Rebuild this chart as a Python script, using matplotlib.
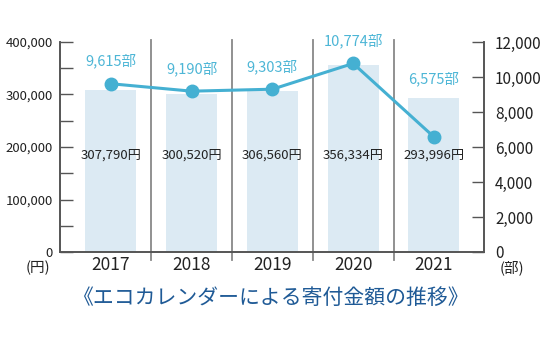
import numpy as np
import matplotlib.pyplot as plt
from matplotlib.ticker import MultipleLocator, FuncFormatter

plt.rcParams['font.family'] = ['Noto Sans CJK JP', 'DejaVu Sans']

# データ
years = ['2017', '2018', '2019', '2020', '2021']
kifu = [307790, 300520, 306560, 356334, 293996]     # 寄付金額(円)
busu = [9615, 9190, 9303, 10774, 6575]              # 部数
kifu_labels = ['307,790円', '300,520円', '306,560円', '356,334円', '293,996円']
busu_labels = ['9,615部', '9,190部', '9,303部', '10,774部', '6,575部']

bar_c = '#dceaf3'
line_c = '#45b0d2'
axis_c = '#555555'

fig = plt.figure(figsize=(5.5, 3.5), dpi=100)
ax = fig.add_axes([60/550, 98/350, 424/550, 210/350])
x = np.arange(len(years))

ax.bar(x, kifu, width=0.63, color=bar_c, zorder=1)
for i, t in enumerate(kifu_labels):
    ax.text(x[i], 185000, t, ha='center', va='center', fontsize=9.5, color='#222222', zorder=3)

ax.set_xlim(-0.63, 4.62)
ax.set_ylim(0, 400000)
ax.yaxis.set_major_locator(MultipleLocator(100000))
ax.yaxis.set_minor_locator(MultipleLocator(50000))
ax.yaxis.set_major_formatter(FuncFormatter(lambda v, p: f'{int(v):,}'))
ax.tick_params(axis='y', which='both', direction='in', length=9, width=1,
               color=axis_c, pad=5, labelsize=9.5, labelcolor='#222222')
ax.set_xticks(x)
ax.set_xticklabels(years, fontsize=12.5)
ax.tick_params(axis='x', length=0, pad=3, labelcolor='#222222')

for s in ['left', 'right', 'bottom']:
    ax.spines[s].set_color(axis_c)
    ax.spines[s].set_linewidth(1.2)
ax.spines['top'].set_visible(False)

# 区切り線
for xs in x[:-1] + 0.5:
    ax.axvline(xs, ymin=-0.04, ymax=1.01, color='#888888', lw=1.3, clip_on=False, zorder=0.5)

ax2 = ax.twinx()
ax2.set_ylim(0, 12000)
ax2.yaxis.set_major_locator(MultipleLocator(2000))
ax2.yaxis.set_major_formatter(FuncFormatter(lambda v, p: f'{int(v):,}'))
ax2.tick_params(axis='y', direction='in', length=9, width=1, color=axis_c,
                pad=8, labelsize=11, labelcolor='#222222')
for s in ['left', 'right', 'bottom']:
    ax2.spines[s].set_color(axis_c)
    ax2.spines[s].set_linewidth(1.2)
ax2.spines['top'].set_visible(False)

ax2.plot(x, busu, color=line_c, lw=2.2, marker='o', markersize=9, zorder=4)
for i, t in enumerate(busu_labels):
    # 2021は棒の上に表示
    yy = max(busu[i], kifu[i] * 12000 / 400000)
    ax2.annotate(t, (x[i], yy), xytext=(0, 8 if i == 4 else 11), textcoords='offset points',
                 ha='center', va='bottom', fontsize=10.5, color='#4db6d6')

fig.text(38/550, 1 - 268/350, '(円)', ha='center', va='center', fontsize=10.5, color='#222222')
fig.text(512/550, 1 - 268/350, '(部)', ha='center', va='center', fontsize=10.5, color='#222222')
fig.text(271/550, 1 - 298/350, '《エコカレンダーによる寄付金額の推移》', ha='center', va='center',
         fontsize=15, color='#1f5a96')

fig.savefig('out.png', dpi=100)
